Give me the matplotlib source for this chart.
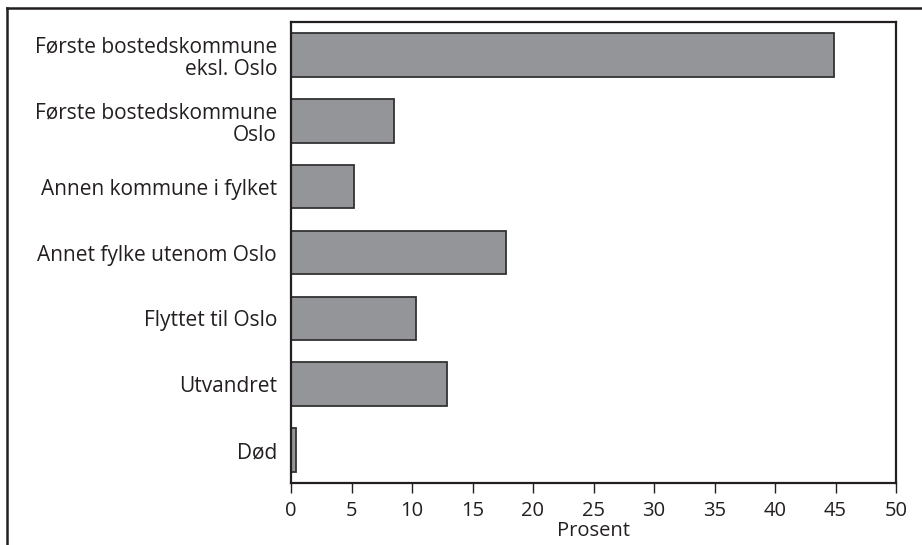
import matplotlib.pyplot as plt
from matplotlib.lines import Line2D

categories = ["Første bostedskommune\neksl. Oslo", "Første bostedskommune\nOslo",
              "Annen kommune i fylket", "Annet fylke utenom Oslo",
              "Flyttet til Oslo", "Utvandret", "Død"]
values = [44.9, 8.5, 5.2, 17.8, 10.3, 12.9, 0.4]
xticks = [0, 5, 10, 15, 20, 25, 30, 35, 40, 45, 50]

plt.rcParams['font.family'] = ['Open Sans', 'DejaVu Sans']

fig = plt.figure(figsize=(9.22, 5.45), dpi=100)
W, H = 922, 545
ax = fig.add_axes([291 / W, 1 - 483 / H, (896 - 291) / W, (483 - 22) / H])

pos = list(range(len(categories)))
ax.barh(pos, values, height=0.66, color='#939598', edgecolor='#333333', linewidth=1.3)
ax.set_yticks(pos)
ax.set_yticklabels(categories, fontsize=15, color='#231f20', ha='right',
                   multialignment='right', linespacing=1.1)
ax.tick_params(axis='y', length=0, pad=10)
ax.set_ylim(len(categories) - 0.5, -0.5)

ax.set_xlim(0, 50)
ax.set_xticks(xticks)
ax.tick_params(axis='x', length=7, width=1, color='#231f20', labelsize=14.5, labelcolor='#231f20', pad=6)
ax.set_xlabel('Prosent', fontsize=14.5, color='#231f20', labelpad=0)

for s in ax.spines.values():
    s.set_color('#231f20')
    s.set_linewidth(1.6)

# outer frame lines
fig.add_artist(Line2D([7 / W, 1], [1 - 8 / H, 1 - 8 / H], color='#231f20', lw=1.8))
fig.add_artist(Line2D([7 / W, 7 / W], [1 - 8 / H, 0], color='#231f20', lw=1.8))

fig.savefig('out.png', dpi=100)
